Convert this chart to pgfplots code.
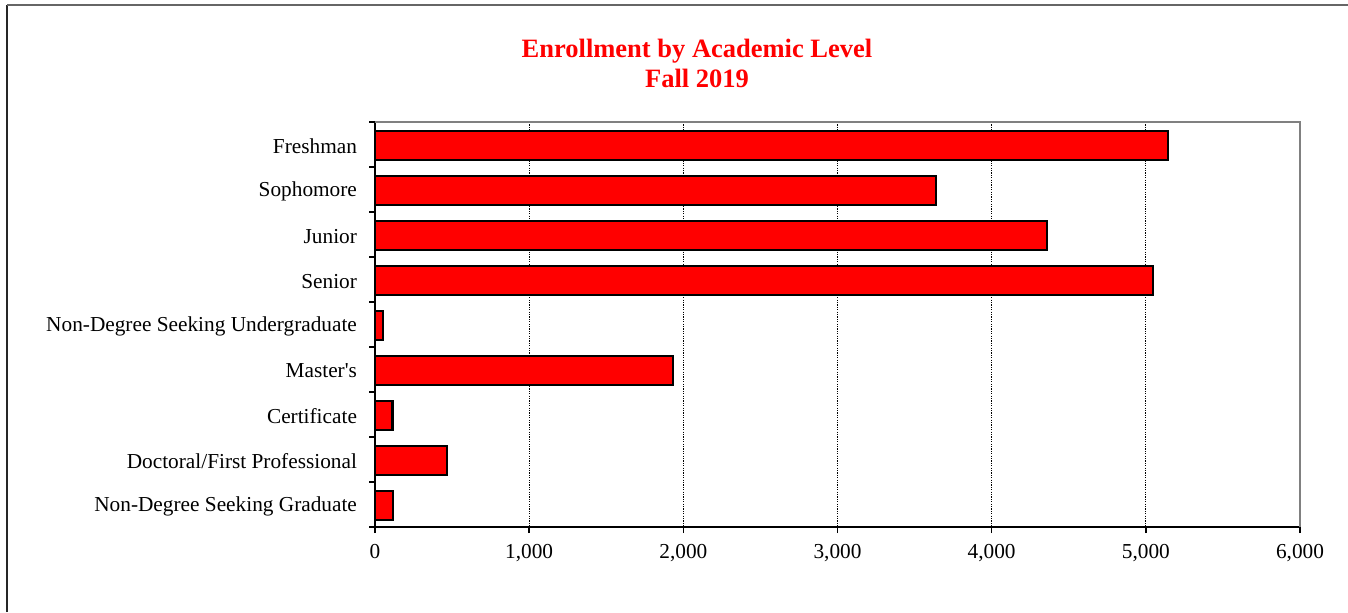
\documentclass[border=0pt]{standalone}
\usepackage{fontspec}
\setmainfont{Liberation Serif}
\usepackage{pgfplots}
\pgfplotsset{compat=1.18}
\begin{document}
\begin{tikzpicture}[x=1pt,y=1pt]
\useasboundingbox (0,0) rectangle (674,306);
\draw[line width=0.6pt, black!85] (3.5,0) -- (3.5,303.5);
\draw[line width=0.6pt, black!60] (3.5,303.5) -- (674,303.5);
\node[text=red, font=\fontsize{13.25}{15}\selectfont\bfseries, align=center] at (348.5,274.5) {Enrollment by Academic Level\\Fall 2019};
\begin{axis}[
  at={(187.5pt,42.5pt)}, anchor=south west,
  width=462.5pt, height=202.5pt, scale only axis,
  clip=false,
  xmin=0, xmax=6000, ymin=-0.5, ymax=8.5, y dir=reverse,
  xbar, bar width=14.5pt,
  axis x line*=bottom, axis y line*=left,
  axis line style={line width=1pt, black},
  xtick={0,1000,...,6000},
  scaled x ticks=false,
  xticklabel style={/pgf/number format/1000 sep={,}, /pgf/number format/assume math mode=true, yshift=-2pt},
  ytick={-0.5,0.5,...,8.5},
  y tick label as interval,
  yticklabels={Freshman,Sophomore,Junior,Senior,Non-Degree Seeking Undergraduate,Master\textquotesingle s,Certificate,Doctoral/First Professional,Non-Degree Seeking Graduate},
  yticklabel style={xshift=-2.5pt, yshift=-0.8pt},
  tick align=outside,
  major tick length=3pt,
  tick style={black, line width=0.8pt},
  ticklabel style={font=\fontsize{10.65}{12}\selectfont},
  xmajorgrids,
  grid style={black, dash pattern=on 0.6pt off 0.6pt, line width=0.45pt},
]
\addplot[fill=red, draw=black, line width=1.2pt, bar shift=-0.4pt] coordinates {
(5144,0) (3640,1) (4359,2) (5046,3) (52,4) (1933,5) (114,6) (467,7) (115,8)};
\draw[black!50, line width=1.3pt] (axis description cs:0,1) -- (axis description cs:1,1) -- (axis description cs:1,0);
\end{axis}
\end{tikzpicture}
\end{document}
